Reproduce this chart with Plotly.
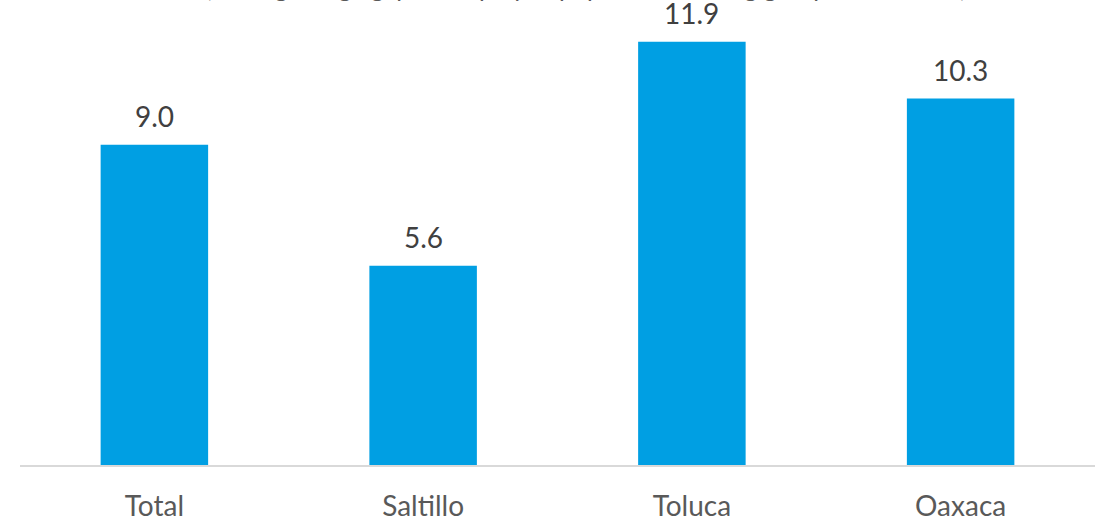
import plotly.graph_objects as go

# Data
categories = ["Total", "Saltillo", "Toluca", "Oaxaca"]
values = [9.0, 5.6, 11.9, 10.3]
value_labels = ["9.0", "5.6", "11.9", "10.3"]
subtitle = "(Average wage gap of employed population among groups of workers)"

BAR_COLOR = "#009FE3"
TEXT_COLOR = "#404040"
TICK_COLOR = "#595959"
FONT = "Lato"

fig = go.Figure(
    go.Bar(
        x=categories,
        y=values,
        marker=dict(color=BAR_COLOR, line=dict(width=0)),
        hoverinfo="skip",
    )
)

# Value labels above each bar
for cat, val, lab in zip(categories, values, value_labels):
    fig.add_annotation(
        x=cat, y=val, text=lab, showarrow=False,
        yanchor="bottom", yshift=10,
        font=dict(family=FONT, size=28, color=TEXT_COLOR),
    )

# Subtitle sitting above the plotting area
fig.add_annotation(
    xref="paper", yref="paper", x=0.5265, y=1.03, yshift=3,
    text=subtitle, showarrow=False, yanchor="bottom",
    font=dict(family=FONT, size=25, color=TICK_COLOR),
)

fig.update_layout(
    width=1102, height=523,
    margin=dict(l=20, r=7, t=20, b=58),
    paper_bgcolor="white", plot_bgcolor="white",
    bargap=0.6,
    showlegend=False,
    xaxis=dict(
        showline=True, linecolor="#D9D9D9", linewidth=1.5,
        ticks="", showgrid=False, ticklabelstandoff=16, automargin=False,
        tickfont=dict(family=FONT, size=28, color=TICK_COLOR),
    ),
    yaxis=dict(
        range=[0, 12.51], visible=False, showgrid=False, zeroline=False,
        automargin=False,
    ),
)

fig.write_html("out.html")
